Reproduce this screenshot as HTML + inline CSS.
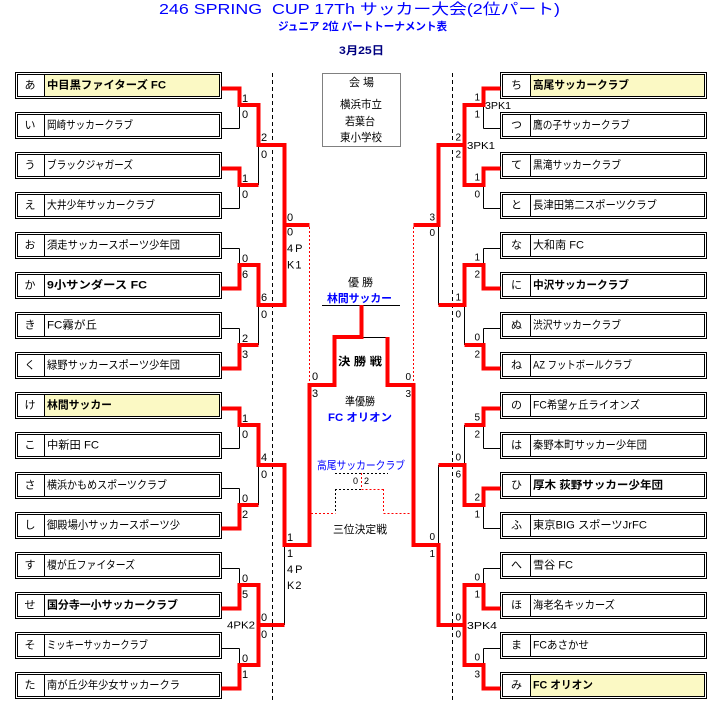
<!DOCTYPE html>
<html><head><meta charset="utf-8"><style>
html,body{margin:0;padding:0;background:#fff;}
svg{display:block;}
text{font-family:"Liberation Sans","Noto Sans CJK JP",sans-serif;}
.n{font-size:11px;fill:#000;}
.b{font-weight:bold;}
.s{font-size:11px;fill:#000;}
.r{font-size:10px;fill:#000;text-anchor:end;}
.p{font-size:10px;fill:#000;}
.c{text-anchor:middle;}
</style></head><body>
<svg width="724" height="705" viewBox="0 0 724 705" xmlns="http://www.w3.org/2000/svg">
<rect width="724" height="705" fill="#fff"/>
<!-- header -->
<text x="159" y="14" font-size="15" fill="#0000ff" textLength="401" lengthAdjust="spacingAndGlyphs" style="white-space:pre">246 SPRING  CUP 17Th サッカー大会(2位パート)</text>
<text x="278" y="30" font-size="11" font-weight="bold" fill="#0000ff" textLength="169" lengthAdjust="spacingAndGlyphs">ジュニア 2位 パートトーナメント表</text>
<text x="339" y="54" font-size="11" font-weight="bold" fill="#000080" textLength="45" lengthAdjust="spacingAndGlyphs">3月25日</text>

<!-- venue box -->
<rect x="322.5" y="73.5" width="78" height="73" fill="none" stroke="#000" stroke-width="1" stroke-dasharray="1,1"/>
<text x="361.5" y="86" class="n c" style="white-space:pre">会 場</text>
<text x="340" y="108" class="n" textLength="42" lengthAdjust="spacingAndGlyphs">横浜市立</text>
<text x="345" y="125" class="n" textLength="30" lengthAdjust="spacingAndGlyphs">若葉台</text>
<text x="340" y="141" class="n" textLength="42" lengthAdjust="spacingAndGlyphs">東小学校</text>

<!-- dashed guides -->
<path d="M272.5 73V700M452.5 73V700" stroke="#000" stroke-width="1" stroke-dasharray="4,3" fill="none"/>

<!-- LEFT BOXES -->
<g fill="none" stroke="#000" stroke-width="1">
<rect x="15.5" y="72.5" width="206" height="26"/><rect x="17.5" y="74.5" width="202" height="22"/>
<rect x="15.5" y="112.5" width="206" height="26"/><rect x="17.5" y="114.5" width="202" height="22"/>
<rect x="15.5" y="152.5" width="206" height="26"/><rect x="17.5" y="154.5" width="202" height="22"/>
<rect x="15.5" y="192.5" width="206" height="26"/><rect x="17.5" y="194.5" width="202" height="22"/>
<rect x="15.5" y="232.5" width="206" height="26"/><rect x="17.5" y="234.5" width="202" height="22"/>
<rect x="15.5" y="272.5" width="206" height="26"/><rect x="17.5" y="274.5" width="202" height="22"/>
<rect x="15.5" y="312.5" width="206" height="26"/><rect x="17.5" y="314.5" width="202" height="22"/>
<rect x="15.5" y="352.5" width="206" height="26"/><rect x="17.5" y="354.5" width="202" height="22"/>
<rect x="15.5" y="392.5" width="206" height="26"/><rect x="17.5" y="394.5" width="202" height="22"/>
<rect x="15.5" y="432.5" width="206" height="26"/><rect x="17.5" y="434.5" width="202" height="22"/>
<rect x="15.5" y="472.5" width="206" height="26"/><rect x="17.5" y="474.5" width="202" height="22"/>
<rect x="15.5" y="512.5" width="206" height="26"/><rect x="17.5" y="514.5" width="202" height="22"/>
<rect x="15.5" y="552.5" width="206" height="26"/><rect x="17.5" y="554.5" width="202" height="22"/>
<rect x="15.5" y="592.5" width="206" height="26"/><rect x="17.5" y="594.5" width="202" height="22"/>
<rect x="15.5" y="632.5" width="206" height="26"/><rect x="17.5" y="634.5" width="202" height="22"/>
<rect x="15.5" y="672.5" width="206" height="26"/><rect x="17.5" y="674.5" width="202" height="22"/>
</g>
<!-- yellow fills left -->
<rect x="45" y="75" width="174" height="21" fill="#fbf9c4"/>
<rect x="45" y="395" width="174" height="21" fill="#fbf9c4"/>
<path d="M44.5 74.5V96.5M44.5 114.5V136.5M44.5 154.5V176.5M44.5 194.5V216.5M44.5 234.5V256.5M44.5 274.5V296.5M44.5 314.5V336.5M44.5 354.5V376.5M44.5 394.5V416.5M44.5 434.5V456.5M44.5 474.5V496.5M44.5 514.5V536.5M44.5 554.5V576.5M44.5 594.5V616.5M44.5 634.5V656.5M44.5 674.5V696.5" stroke="#000" stroke-width="1"/>

<!-- RIGHT BOXES -->
<g fill="none" stroke="#000" stroke-width="1">
<rect x="500.5" y="72.5" width="206" height="26"/><rect x="502.5" y="74.5" width="202" height="22"/>
<rect x="500.5" y="112.5" width="206" height="26"/><rect x="502.5" y="114.5" width="202" height="22"/>
<rect x="500.5" y="152.5" width="206" height="26"/><rect x="502.5" y="154.5" width="202" height="22"/>
<rect x="500.5" y="192.5" width="206" height="26"/><rect x="502.5" y="194.5" width="202" height="22"/>
<rect x="500.5" y="232.5" width="206" height="26"/><rect x="502.5" y="234.5" width="202" height="22"/>
<rect x="500.5" y="272.5" width="206" height="26"/><rect x="502.5" y="274.5" width="202" height="22"/>
<rect x="500.5" y="312.5" width="206" height="26"/><rect x="502.5" y="314.5" width="202" height="22"/>
<rect x="500.5" y="352.5" width="206" height="26"/><rect x="502.5" y="354.5" width="202" height="22"/>
<rect x="500.5" y="392.5" width="206" height="26"/><rect x="502.5" y="394.5" width="202" height="22"/>
<rect x="500.5" y="432.5" width="206" height="26"/><rect x="502.5" y="434.5" width="202" height="22"/>
<rect x="500.5" y="472.5" width="206" height="26"/><rect x="502.5" y="474.5" width="202" height="22"/>
<rect x="500.5" y="512.5" width="206" height="26"/><rect x="502.5" y="514.5" width="202" height="22"/>
<rect x="500.5" y="552.5" width="206" height="26"/><rect x="502.5" y="554.5" width="202" height="22"/>
<rect x="500.5" y="592.5" width="206" height="26"/><rect x="502.5" y="594.5" width="202" height="22"/>
<rect x="500.5" y="632.5" width="206" height="26"/><rect x="502.5" y="634.5" width="202" height="22"/>
<rect x="500.5" y="672.5" width="206" height="26"/><rect x="502.5" y="674.5" width="202" height="22"/>
</g>
<rect x="531" y="75" width="173" height="21" fill="#fbf9c4"/>
<rect x="531" y="675" width="173" height="21" fill="#fbf9c4"/>
<path d="M530.5 74.5V96.5M530.5 114.5V136.5M530.5 154.5V176.5M530.5 194.5V216.5M530.5 234.5V256.5M530.5 274.5V296.5M530.5 314.5V336.5M530.5 354.5V376.5M530.5 394.5V416.5M530.5 434.5V456.5M530.5 474.5V496.5M530.5 514.5V536.5M530.5 554.5V576.5M530.5 594.5V616.5M530.5 634.5V656.5M530.5 674.5V696.5" stroke="#000" stroke-width="1"/>

<!-- left labels & names -->
<g class="n">
<text x="30" y="88.5" class="n c">あ</text><text x="47" y="88.5" class="n b" textLength="119" lengthAdjust="spacingAndGlyphs">中目黒ファイターズ FC</text>
<text x="30" y="128.5" class="n c">い</text><text x="47" y="128.5" class="n" textLength="86" lengthAdjust="spacingAndGlyphs">岡崎サッカークラブ</text>
<text x="30" y="168.5" class="n c">う</text><text x="47" y="168.5" class="n" textLength="86" lengthAdjust="spacingAndGlyphs">ブラックジャガーズ</text>
<text x="30" y="208.5" class="n c">え</text><text x="47" y="208.5" class="n" textLength="108" lengthAdjust="spacingAndGlyphs">大井少年サッカークラブ</text>
<text x="30" y="248.5" class="n c">お</text><text x="47" y="248.5" class="n" textLength="133" lengthAdjust="spacingAndGlyphs">須走サッカースポーツ少年団</text>
<text x="30" y="288.5" class="n c">か</text><text x="47" y="288.5" class="n b" textLength="100" lengthAdjust="spacingAndGlyphs">9小サンダース FC</text>
<text x="30" y="328.5" class="n c">き</text><text x="47" y="328.5" class="n" textLength="50" lengthAdjust="spacingAndGlyphs">FC霧が丘</text>
<text x="30" y="368.5" class="n c">く</text><text x="47" y="368.5" class="n" textLength="133" lengthAdjust="spacingAndGlyphs">緑野サッカースポーツ少年団</text>
<text x="30" y="408.5" class="n c">け</text><text x="47" y="408.5" class="n b" textLength="65" lengthAdjust="spacingAndGlyphs">林間サッカー</text>
<text x="30" y="448.5" class="n c">こ</text><text x="47" y="448.5" class="n" textLength="52" lengthAdjust="spacingAndGlyphs">中新田 FC</text>
<text x="30" y="488.5" class="n c">さ</text><text x="47" y="488.5" class="n" textLength="120" lengthAdjust="spacingAndGlyphs">横浜かもめスポーツクラブ</text>
<text x="30" y="528.5" class="n c">し</text><text x="47" y="528.5" class="n" textLength="133" lengthAdjust="spacingAndGlyphs">御殿場小サッカースポーツ少</text>
<text x="30" y="568.5" class="n c">す</text><text x="47" y="568.5" class="n" textLength="88" lengthAdjust="spacingAndGlyphs">榎が丘ファイターズ</text>
<text x="30" y="608.5" class="n c">せ</text><text x="47" y="608.5" class="n b" textLength="131" lengthAdjust="spacingAndGlyphs">国分寺一小サッカークラブ</text>
<text x="30" y="648.5" class="n c">そ</text><text x="47" y="648.5" class="n" textLength="101" lengthAdjust="spacingAndGlyphs">ミッキーサッカークラブ</text>
<text x="30" y="688.5" class="n c">た</text><text x="47" y="688.5" class="n" textLength="133" lengthAdjust="spacingAndGlyphs">南が丘少年少女サッカークラ</text>
</g>

<!-- right labels & names -->
<g class="n">
<text x="516.5" y="88.5" class="n c">ち</text><text x="533" y="88.5" class="n b" textLength="96" lengthAdjust="spacingAndGlyphs">高尾サッカークラブ</text>
<text x="516.5" y="128.5" class="n c">つ</text><text x="533" y="128.5" class="n" textLength="97" lengthAdjust="spacingAndGlyphs">鷹の子サッカークラブ</text>
<text x="516.5" y="168.5" class="n c">て</text><text x="533" y="168.5" class="n" textLength="88" lengthAdjust="spacingAndGlyphs">黒滝サッカークラブ</text>
<text x="516.5" y="208.5" class="n c">と</text><text x="533" y="208.5" class="n" textLength="124" lengthAdjust="spacingAndGlyphs">長津田第二スポーツクラブ</text>
<text x="516.5" y="248.5" class="n c">な</text><text x="533" y="248.5" class="n" textLength="51" lengthAdjust="spacingAndGlyphs">大和南 FC</text>
<text x="516.5" y="288.5" class="n c">に</text><text x="533" y="288.5" class="n b" textLength="96" lengthAdjust="spacingAndGlyphs">中沢サッカークラブ</text>
<text x="516.5" y="328.5" class="n c">ぬ</text><text x="533" y="328.5" class="n" textLength="88" lengthAdjust="spacingAndGlyphs">渋沢サッカークラブ</text>
<text x="516.5" y="368.5" class="n c">ね</text><text x="533" y="368.5" class="n" textLength="99" lengthAdjust="spacingAndGlyphs">AZ フットボールクラブ</text>
<text x="516.5" y="408.5" class="n c">の</text><text x="533" y="408.5" class="n" textLength="107" lengthAdjust="spacingAndGlyphs">FC希望ヶ丘ライオンズ</text>
<text x="516.5" y="448.5" class="n c">は</text><text x="533" y="448.5" class="n" textLength="114" lengthAdjust="spacingAndGlyphs">秦野本町サッカー少年団</text>
<text x="516.5" y="488.5" class="n c">ひ</text><text x="533" y="488.5" class="n b" textLength="130" lengthAdjust="spacingAndGlyphs">厚木 荻野サッカー少年団</text>
<text x="516.5" y="528.5" class="n c">ふ</text><text x="533" y="528.5" class="n" textLength="114" lengthAdjust="spacingAndGlyphs">東京BIG スポーツJrFC</text>
<text x="516.5" y="568.5" class="n c">へ</text><text x="533" y="568.5" class="n" textLength="40" lengthAdjust="spacingAndGlyphs">雪谷 FC</text>
<text x="516.5" y="608.5" class="n c">ほ</text><text x="533" y="608.5" class="n" textLength="82" lengthAdjust="spacingAndGlyphs">海老名キッカーズ</text>
<text x="516.5" y="648.5" class="n c">ま</text><text x="533" y="648.5" class="n" textLength="56" lengthAdjust="spacingAndGlyphs">FCあさかせ</text>
<text x="516.5" y="688.5" class="n c">み</text><text x="533" y="688.5" class="n b" textLength="60" lengthAdjust="spacingAndGlyphs">FC オリオン</text>
</g>

<!-- thin black bracket lines -->
<path fill="none" stroke="#000" stroke-width="1" d="
M221.5 88.5H239.5M221.5 128.5H239.5M221.5 168.5H239.5M221.5 208.5H239.5M221.5 248.5H239.5M221.5 288.5H239.5M221.5 328.5H239.5M221.5 368.5H239.5
M221.5 408.5H239.5M221.5 448.5H239.5M221.5 488.5H239.5M221.5 528.5H239.5M221.5 568.5H239.5M221.5 608.5H239.5M221.5 648.5H239.5M221.5 688.5H239.5
M239.5 88.5V128.5M239.5 168.5V208.5M239.5 248.5V288.5M239.5 328.5V368.5M239.5 408.5V448.5M239.5 488.5V528.5M239.5 568.5V608.5M239.5 648.5V688.5
M258.5 105V185M258.5 265V345M258.5 425V505M258.5 585V665
M284.5 145V305M284.5 465V625
M500.5 88.5H483.5M500.5 128.5H483.5M500.5 168.5H483.5M500.5 208.5H483.5M500.5 248.5H483.5M500.5 288.5H483.5M500.5 328.5H483.5M500.5 368.5H483.5
M500.5 408.5H483.5M500.5 448.5H483.5M500.5 488.5H483.5M500.5 528.5H483.5M500.5 568.5H483.5M500.5 608.5H483.5M500.5 648.5H483.5M500.5 688.5H483.5
M483.5 88.5V128.5M483.5 168.5V208.5M483.5 248.5V288.5M483.5 328.5V368.5M483.5 408.5V448.5M483.5 488.5V528.5M483.5 568.5V608.5M483.5 648.5V688.5
M464.5 105V185M464.5 265V345M464.5 425V505M464.5 585V665
M438.5 145V305M438.5 465V625
M361.5 337.5H387.5
M322 305.5H400
"/>

<!-- red thick paths -->
<g fill="none" stroke="#ff0000" stroke-width="4" stroke-linejoin="miter" stroke-linecap="butt">
<path d="M221.5 88.5H239.5V105H258.5V145H284.5V225H309.5"/>
<path d="M221.5 168.5H239.5V185H258.5"/>
<path d="M221.5 288.5H239.5V265H258.5V305H284.5V225"/>
<path d="M221.5 368.5H239.5V345H258.5"/>
<path d="M221.5 408.5H239.5V425H258.5V465H284.5V545H309.5V385H334.5V337H361.5V305"/>
<path d="M221.5 528.5H239.5V505H258.5"/>
<path d="M221.5 608.5H239.5V585H258.5V625H284.5"/>
<path d="M221.5 688.5H239.5V665H258.5V625"/>
<path d="M500.5 88.5H483.5V105H464.5V145H438.5V225H413.5"/>
<path d="M500.5 168.5H483.5V185H464.5V145"/>
<path d="M500.5 288.5H483.5V265H464.5V305H438.5"/>
<path d="M500.5 368.5H483.5V345H464.5"/>
<path d="M500.5 408.5H483.5V425H464.5"/>
<path d="M500.5 488.5H483.5V505H464.5V465H438.5"/>
<path d="M500.5 608.5H483.5V585H464.5V625H438.5V545H413.5V385H387.5V337"/>
<path d="M500.5 688.5H483.5V665H464.5V625"/>
</g>

<!-- dotted red semifinal losers -->
<path d="M309.5 227V383M413.5 227V383" stroke="#ff0000" stroke-width="1" stroke-dasharray="2,2" fill="none"/>

<!-- third place bracket -->
<path d="M335 473.5H388M335 489.5H361.5M335.5 489V513" stroke="#000" stroke-width="1" stroke-dasharray="2,2" fill="none"/>
<path d="M361.5 473V489M361.5 489.5H383.5M383.5 489V513M311 513.5H335.5M383.5 513.5H412" stroke="#ff0000" stroke-width="1" stroke-dasharray="2,2" fill="none"/>

<!-- center labels -->
<text x="348" y="286" class="n" textLength="25" lengthAdjust="spacing" style="white-space:pre">優 勝</text>
<text x="327" y="302" font-size="11" font-weight="bold" fill="#0000ff" textLength="65" lengthAdjust="spacingAndGlyphs">林間サッカー</text>
<text x="338" y="365" class="n b" textLength="44" lengthAdjust="spacingAndGlyphs" style="white-space:pre">決 勝 戦</text>
<text x="345" y="405" class="n" textLength="30" lengthAdjust="spacingAndGlyphs">準優勝</text>
<text x="328" y="421" font-size="11" font-weight="bold" fill="#0000ff" textLength="64" lengthAdjust="spacingAndGlyphs">FC オリオン</text>
<text x="317" y="469" font-size="11" fill="#0000ff" textLength="88" lengthAdjust="spacingAndGlyphs">高尾サッカークラブ</text>
<text x="353" y="484" font-size="9">0</text><text x="364" y="484" font-size="9">2</text>
<text x="333" y="533" class="n" textLength="54" lengthAdjust="spacingAndGlyphs">三位決定戦</text>

<!-- left scores -->
<g class="s">
<text x="242" y="102">1</text><text x="242" y="118">0</text>
<text x="242" y="182">1</text><text x="242" y="198">0</text>
<text x="242" y="262">0</text><text x="242" y="278">6</text>
<text x="242" y="342">2</text><text x="242" y="358">3</text>
<text x="242" y="422">1</text><text x="242" y="438">0</text>
<text x="242" y="502">0</text><text x="242" y="518">2</text>
<text x="242" y="582">0</text><text x="242" y="598">5</text>
<text x="242" y="662">0</text><text x="242" y="678">1</text>
<text x="261" y="141">2</text><text x="261" y="158">0</text>
<text x="261" y="301">6</text><text x="261" y="318">0</text>
<text x="261" y="461">4</text><text x="261" y="478">0</text>
<text x="261" y="621">0</text><text x="261" y="638">0</text>
<text x="287" y="221">0</text><text x="287" y="235.5">0</text>
<text x="287" y="252" letter-spacing="2">4P</text><text x="287" y="268.5" letter-spacing="1">K1</text>
<text x="287" y="541">1</text><text x="287" y="557">1</text>
<text x="287" y="573" letter-spacing="2">4P</text><text x="287" y="589" letter-spacing="1">K2</text>
<text x="312" y="380">0</text><text x="312" y="397">3</text>
</g>
<text x="227" y="628.5" class="p" textLength="28" lengthAdjust="spacingAndGlyphs">4PK2</text>

<!-- right scores -->
<g class="r">
<text x="480" y="100.5">1</text><text x="480" y="117.5">1</text>
<text x="480" y="180.5">1</text><text x="480" y="197.5">0</text>
<text x="480" y="260.5">1</text><text x="480" y="277.5">2</text>
<text x="480" y="340.5">0</text><text x="480" y="357.5">2</text>
<text x="480" y="420.5">5</text><text x="480" y="437.5">2</text>
<text x="480" y="500.5">2</text><text x="480" y="517.5">1</text>
<text x="480" y="580.5">0</text><text x="480" y="597.5">1</text>
<text x="480" y="660.5">0</text><text x="480" y="677.5">3</text>
<text x="461" y="140.5">2</text><text x="461" y="157.5">2</text>
<text x="461" y="300.5">1</text><text x="461" y="317.5">0</text>
<text x="461" y="460.5">0</text><text x="461" y="477.5">6</text>
<text x="461" y="620.5">0</text><text x="461" y="637.5">0</text>
<text x="435" y="220.5">3</text><text x="435" y="236">0</text>
<text x="435" y="540">0</text><text x="435" y="557">1</text>
<text x="411" y="380">0</text><text x="411" y="397">3</text>
</g>
<text x="485" y="109" class="p" textLength="26" lengthAdjust="spacingAndGlyphs">3PK1</text>
<text x="467" y="149" class="p" textLength="28" lengthAdjust="spacingAndGlyphs">3PK1</text>
<text x="467" y="629" class="p" textLength="30" lengthAdjust="spacingAndGlyphs">3PK4</text>
</svg>
</body></html>
